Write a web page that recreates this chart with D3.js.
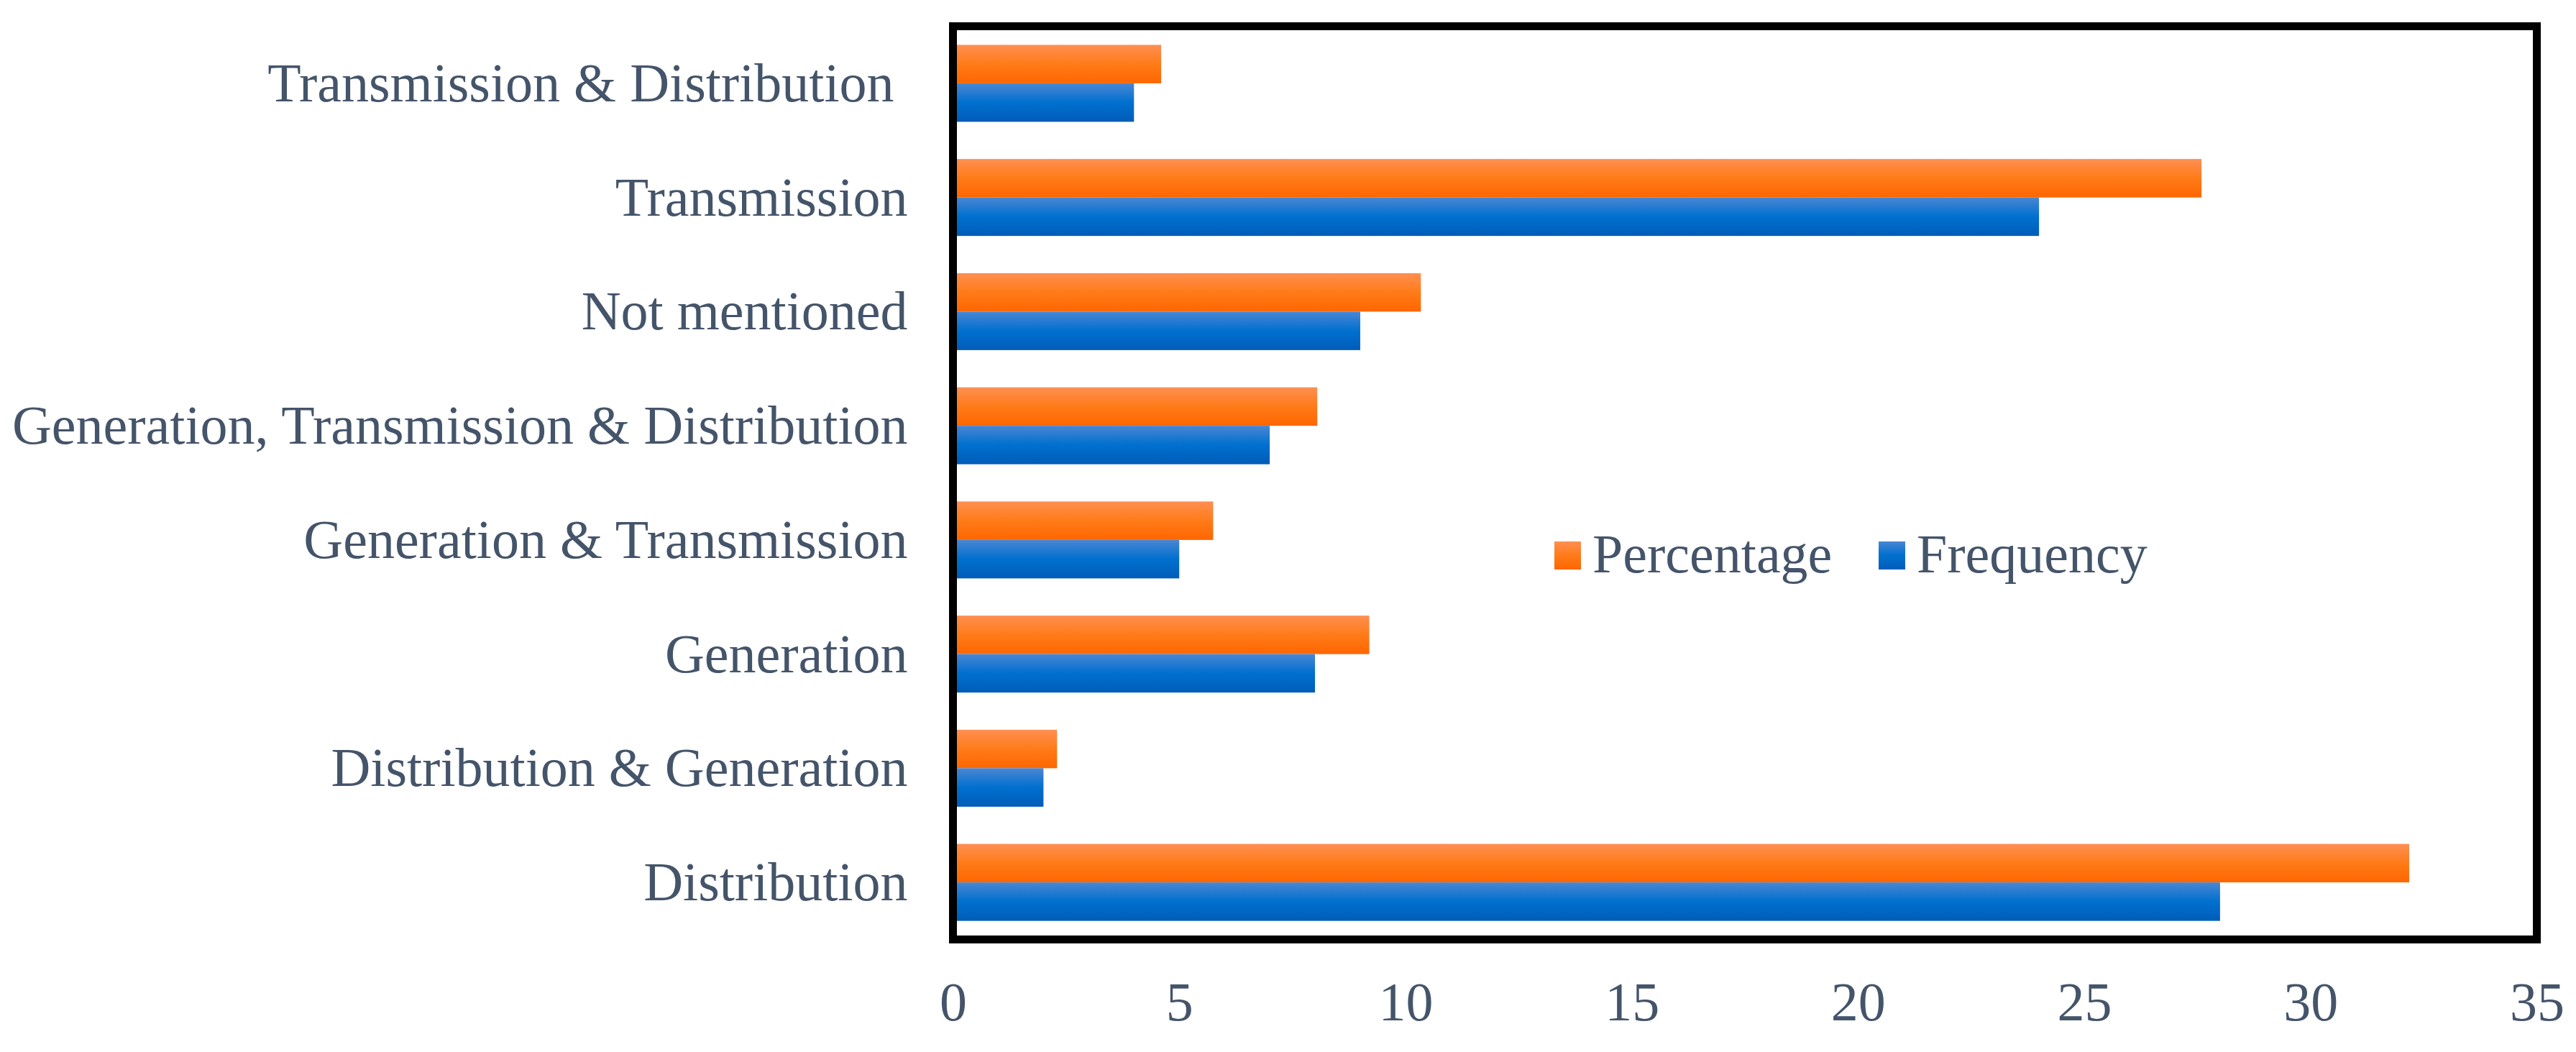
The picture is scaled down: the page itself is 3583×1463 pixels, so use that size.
<!DOCTYPE html>
<html>
<head>
<meta charset="utf-8">
<script src="https://cdn.jsdelivr.net/npm/d3@7"></script>
<style>
  body { margin: 0; background: #ffffff; }
  text { font-family: "Liberation Serif", "Times New Roman", serif; fill: #44546A; }
</style>
</head>
<body>
<div id="chart"></div>
<script>
// categories, top to bottom as in the picture
var categories = [
  "Transmission & Distribution ",
  "Transmission",
  "Not mentioned",
  "Generation, Transmission & Distribution",
  "Generation & Transmission",
  "Generation",
  "Distribution & Generation",
  "Distribution"
];

// series values
var frequency = [4, 24, 9, 7, 5, 8, 2, 28];
var percentage = [4.6, 27.59, 10.34, 8.05, 5.75, 9.2, 2.3, 32.18];

var seriesNames = ["Percentage", "Frequency"];
var xTicks = [0, 5, 10, 15, 20, 25, 30, 35];

var svgWidth = 3583;
var svgHeight = 1463;

var margin = { top: 36.5, right: 54.5, bottom: 156.5, left: 1325.5 };
var width = svgWidth - margin.left - margin.right;
var height = svgHeight - margin.top - margin.bottom;

var svg = d3.select("#chart")
  .append("svg")
  .attr("width", svgWidth)
  .attr("height", svgHeight);

svg.append("rect")
  .attr("width", svgWidth)
  .attr("height", svgHeight)
  .attr("fill", "#ffffff");

// gradients for the bars (light on top, darker below)
var defs = svg.append("defs");
var gradStops = {
  Percentage: ["#ff8f52", "#ff7b18", "#ff6600"],
  Frequency: ["#4a86d3", "#0070cf", "#005cb8"]
};
seriesNames.forEach(function(name) {
  var g = defs.append("linearGradient")
    .attr("id", "grad-" + name)
    .attr("x1", 0).attr("y1", 0)
    .attr("x2", 0).attr("y2", 1);
  gradStops[name].forEach(function(c, i) {
    g.append("stop")
      .attr("offset", (i * 50) + "%")
      .attr("stop-color", c);
  });
});

var chartGroup = svg.append("g")
  .attr("transform", `translate(${margin.left}, ${margin.top})`);

// scales
var xScale = d3.scaleLinear()
  .domain([0, 35])
  .range([0, width]);

var yScale = d3.scaleBand()
  .domain(categories)
  .range([0, height])
  .paddingInner(0.326)
  .paddingOuter(0.163);

var ySub = d3.scaleBand()
  .domain(seriesNames)
  .range([0, yScale.bandwidth()]);

// build rows for the bars
var rows = [];
categories.forEach(function(c, i) {
  rows.push({ cat: c, series: "Percentage", value: percentage[i] });
  rows.push({ cat: c, series: "Frequency", value: frequency[i] });
});

chartGroup.selectAll("rect.bar")
  .data(rows)
  .enter()
  .append("rect")
  .attr("class", "bar")
  .attr("x", xScale(0))
  .attr("y", d => yScale(d.cat) + ySub(d.series))
  .attr("width", d => xScale(d.value) - xScale(0))
  .attr("height", ySub.bandwidth())
  .attr("fill", d => "url(#grad-" + d.series + ")");

// frame round the plot area
chartGroup.append("rect")
  .attr("x", 0)
  .attr("y", 0)
  .attr("width", width)
  .attr("height", height)
  .attr("fill", "none")
  .attr("stroke", "#000000")
  .attr("stroke-width", 11);

// x axis (labels only)
var xAxis = chartGroup.append("g")
  .attr("transform", `translate(0, ${height})`)
  .call(d3.axisBottom(xScale).tickValues(xTicks).tickSize(0).tickFormat(d3.format("d")));
xAxis.select(".domain").remove();
xAxis.selectAll("text")
  .attr("y", 112.5)
  .attr("dy", 0)
  .attr("font-size", 76)
  .attr("font-family", null);

// y axis (labels only)
var yAxis = chartGroup.append("g")
  .call(d3.axisLeft(yScale).tickSize(0));
yAxis.select(".domain").remove();
yAxis.selectAll("text")
  .attr("x", -63)
  .attr("dy", 25)
  .attr("xml:space", "preserve")
  .attr("font-size", 76)
  .attr("font-family", null);

// legend
var legend = svg.append("g")
  .attr("transform", "translate(2162, 753)");
var legendX = [0, 451];
seriesNames.forEach(function(name, i) {
  legend.append("rect")
    .attr("x", legendX[i])
    .attr("y", 0)
    .attr("width", 37)
    .attr("height", 39)
    .attr("fill", "url(#grad-" + name + ")");
  legend.append("text")
    .attr("x", legendX[i] + 53)
    .attr("y", 43)
    .attr("font-size", 76)
    .text(name);
});
</script>
</body>
</html>
